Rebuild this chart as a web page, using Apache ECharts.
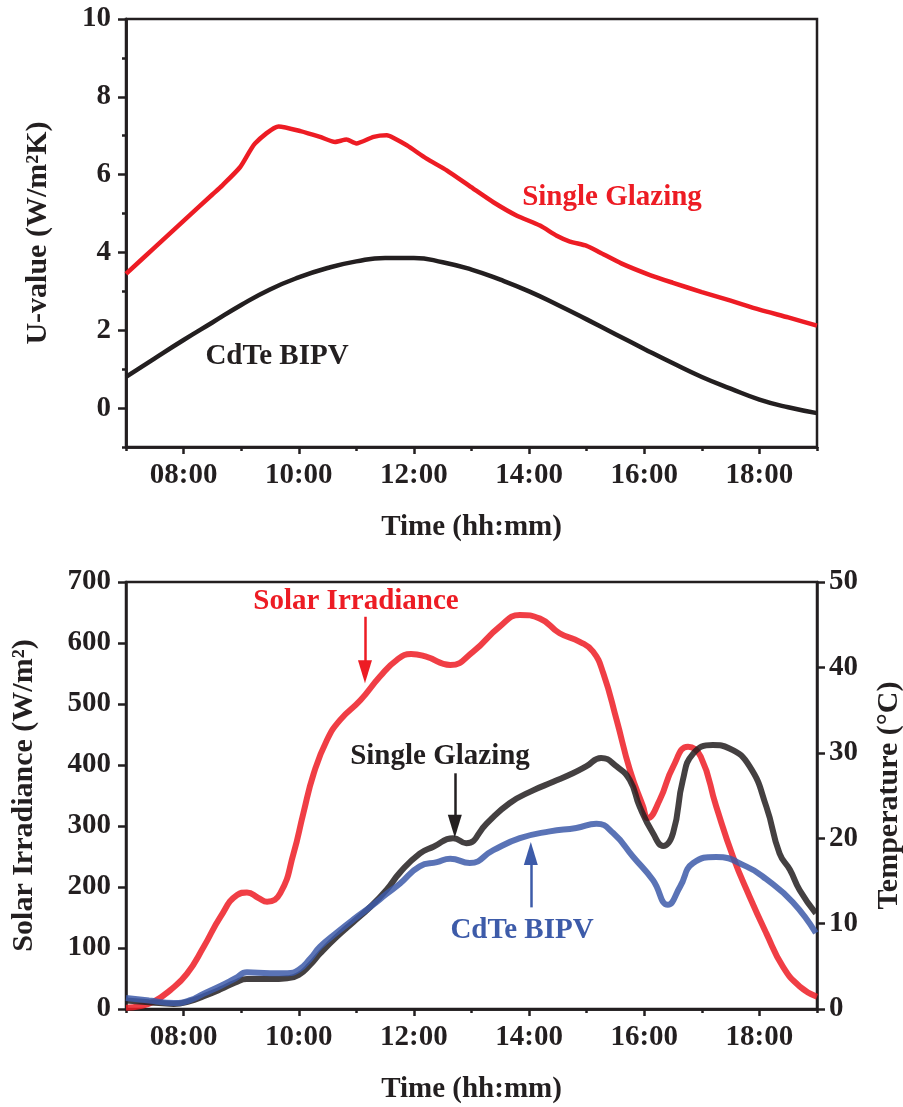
<!DOCTYPE html>
<html>
<head>
<meta charset="utf-8">
<script src="https://cdn.jsdelivr.net/npm/echarts@6/dist/echarts.min.js"></script>
<style>
html, body { margin: 0; padding: 0; background: #fff; }
#chart { width: 903px; height: 1107px; }
</style>
</head>
<body>
<div id="chart"></div>
<script>
var hourLabels = ['07:00', '08:00', '09:00', '10:00', '11:00', '12:00', '13:00',
  '14:00', '15:00', '16:00', '17:00', '18:00', '19:00']
var uTickLabels = ['-1', '0', '1', '2', '3', '4', '5', '6', '7', '8', '9', '10']

// top panel: U-value (W/m2K)
var singleUHours = [7.0, 7.5, 8.0, 8.5, 8.67, 8.98, 9.24, 9.65, 10.03, 10.37, 10.63, 10.83, 11.0,
  11.3, 11.53, 11.64, 11.88, 12.22, 12.57, 13.03, 13.38, 13.78, 14.19, 14.48, 14.71, 15.0, 15.23,
  15.6, 16.1, 16.5, 17.0, 17.5, 18.0, 18.5, 19.0]
var singleU = [3.45, 4.13, 4.81, 5.49, 5.72, 6.19, 6.80, 7.24, 7.12, 6.97, 6.84, 6.90, 6.80,
  6.97, 7.01, 6.95, 6.75, 6.41, 6.11, 5.64, 5.29, 4.95, 4.69, 4.43, 4.28, 4.17, 4.0,
  3.72, 3.42, 3.22, 2.98, 2.76, 2.53, 2.33, 2.12]

var cdteUHours = [7, 7.5, 8, 8.5, 9, 9.5, 10, 10.5, 11, 11.5, 12, 12.5, 13, 13.5, 14, 14.5,
  15, 15.5, 16, 16.5, 17, 17.5, 18, 18.5, 19]
var cdteU = [0.80, 1.28, 1.75, 2.20, 2.65, 3.05, 3.36, 3.60, 3.77, 3.86, 3.86, 3.75, 3.56, 3.30,
  3.00, 2.65, 2.28, 1.90, 1.52, 1.15, 0.80, 0.50, 0.22, 0.02, -0.13]

// bottom panel: solar irradiance (W/m2) and temperatures (oC)
var solarHours = [7.0, 7.25, 7.48, 7.77, 8.06, 8.35, 8.64, 8.93, 9.10, 9.30, 9.45, 9.68, 9.91,
  10.08, 10.26, 10.49, 10.72, 11.07, 11.41, 11.70, 11.95, 12.2, 12.63, 13.03, 13.49, 13.84,
  14.19, 14.53, 14.88, 15.11, 15.29, 15.52, 15.75, 15.98, 16.06, 16.27, 16.50, 16.76, 16.98,
  17.25, 17.54, 17.83, 18.12, 18.41, 18.70, 19.0]
var solarIrr = [2, 5, 12, 31, 58, 102, 151, 187, 191, 182, 176, 190, 255,
  321, 386, 441, 474, 506, 545, 572, 582, 578, 564, 586, 627, 646,
  640, 616, 602, 586, 550, 474, 392, 332, 313, 343, 397, 430, 414,
  332, 250, 184, 124, 69, 37, 20]

var singleTempHours = [7.0, 7.4, 7.83, 8.1, 8.35, 8.64, 8.9, 9.1, 9.5, 9.8, 10.0, 10.2, 10.37,
  10.65, 10.95, 11.25, 11.53, 11.76, 12.1, 12.34, 12.68, 12.91, 13.26, 13.66, 14.07, 14.42,
  14.76, 14.99, 15.25, 15.52, 15.75, 15.92, 16.15, 16.33, 16.50, 16.67, 16.85, 17.19, 17.48,
  17.83, 18.12, 18.35, 18.53, 18.70, 18.98]
var singleTemp = [1.0, 0.8, 0.6, 0.9, 1.5, 2.3, 3.1, 3.5, 3.5, 3.6, 4.0, 5.2, 6.5,
  8.4, 10.2, 12.0, 14.0, 16.0, 18.2, 19.0, 20.0, 19.4, 21.7, 24.1, 25.6, 26.6,
  27.6, 28.4, 29.4, 28.4, 26.8, 23.7, 20.6, 19.1, 20.6, 26.8, 29.9, 30.9, 30.5,
  28.4, 23.7, 18.2, 16.3, 13.9, 11.2]

var cdteTempHours = [7.0, 7.4, 7.83, 8.1, 8.35, 8.64, 8.9, 9.1, 9.5, 9.8, 10.0, 10.2, 10.37,
  10.65, 10.95, 11.25, 11.53, 11.76, 12.1, 12.4, 12.63, 12.97, 13.38, 13.84, 14.36, 14.82,
  15.17, 15.46, 15.81, 16.15, 16.41, 16.62, 16.85, 17.25, 17.77, 18.12, 18.58, 18.98]
var cdteTemp = [1.3, 1.0, 0.7, 1.0, 1.8, 2.7, 3.6, 4.3, 4.2, 4.2, 4.6, 5.9, 7.3,
  8.9, 10.5, 12.0, 13.5, 14.7, 16.7, 17.2, 17.6, 17.1, 18.6, 20.0, 20.8, 21.2,
  21.7, 20.6, 17.8, 15.1, 12.2, 14.3, 17.1, 17.8, 16.7, 15.2, 12.5, 8.9]

function pairs(xs, ys) {
  var out = []
  for (var i = 0; i < xs.length; i++) out.push([xs[i], ys[i]])
  return out
}

var INK = '#231f20'
var RED = '#ed1c24'
var BLUE = '#3d5ba9'
var FONT = 'Liberation Serif'

var labelStyle = { color: INK, fontFamily: FONT, fontWeight: 'bold', fontSize: 29 }
var nameStyle = { color: INK, fontFamily: FONT, fontWeight: 'bold', fontSize: 29 }
var yNameStyle = { color: INK, fontFamily: FONT, fontWeight: 'bold', fontSize: 30 }
var axisLine = { lineStyle: { color: INK, width: 2.5 } }
var noteFont = 'bold 29px "Liberation Serif"'

function evenIdx(i) { return i % 2 === 1 }
function oddIdx(i) { return i % 2 === 0 }

// hidden value axes carry the data; category overlays draw ticks/labels
function hiddenX(grid) {
  return { type: 'value', gridIndex: grid, min: 7, max: 19, show: false }
}
function hourAxisMajor(grid) {
  return {
    type: 'category', gridIndex: grid, position: 'bottom', data: hourLabels, boundaryGap: false,
    axisLine: axisLine,
    axisTick: { interval: evenIdx, length: 7, lineStyle: { color: INK, width: 2.5 } },
    axisLabel: Object.assign({ interval: evenIdx, margin: 14 }, labelStyle),
    splitLine: { show: false },
    name: 'Time (hh:mm)', nameLocation: 'middle', nameGap: 66, nameTextStyle: nameStyle
  }
}
function hourAxisMinor(grid) {
  return {
    type: 'category', gridIndex: grid, position: 'bottom', data: hourLabels, boundaryGap: false,
    axisLine: axisLine,
    axisTick: { interval: oddIdx, length: 4, lineStyle: { color: INK, width: 2.5 } },
    axisLabel: { show: false },
    splitLine: { show: false }
  }
}
function arrow(color, from, to) {
  return {
    silent: true, symbol: ['none', 'triangle'], symbolSize: 16,
    label: { show: false }, emphasis: { disabled: true },
    lineStyle: { color: color, width: 2.5, type: 'solid' },
    data: [[{ coord: from, symbol: 'none' }, { coord: to, symbol: 'triangle', symbolSize: [14, 23] }]]
  }
}

var option = {
  backgroundColor: '#fff',
  animation: false,
  grid: [
    { left: 126, top: 19, width: 691, height: 428, show: true, borderColor: INK, borderWidth: 2.5, outerBoundsMode: 'none' },
    { left: 126, top: 582, width: 691, height: 427, show: true, borderColor: INK, borderWidth: 2.5, outerBoundsMode: 'none' }
  ],
  xAxis: [
    hiddenX(0), hourAxisMajor(0), hourAxisMinor(0),
    hiddenX(1), hourAxisMajor(1), hourAxisMinor(1)
  ],
  yAxis: [
    { type: 'value', gridIndex: 0, min: -1, max: 10, show: false },
    {
      type: 'category', gridIndex: 0, position: 'left', data: uTickLabels, boundaryGap: false,
      axisLine: axisLine,
      axisTick: { interval: evenIdx, length: 8, lineStyle: { color: INK, width: 2.5 } },
      axisLabel: Object.assign({ interval: evenIdx, margin: 15 }, labelStyle),
      splitLine: { show: false },
      name: 'U-value (W/m²K)', nameLocation: 'middle', nameGap: 73, nameTextStyle: yNameStyle
    },
    {
      type: 'category', gridIndex: 0, position: 'left', data: uTickLabels, boundaryGap: false,
      axisLine: axisLine,
      axisTick: { interval: oddIdx, length: 4, lineStyle: { color: INK, width: 2.5 } },
      axisLabel: { show: false },
      splitLine: { show: false }
    },
    {
      type: 'value', gridIndex: 1, position: 'left', min: 0, max: 700, interval: 100,
      axisLine: { show: true, lineStyle: { color: INK, width: 2.5 } },
      axisTick: { show: true, length: 8, lineStyle: { color: INK, width: 2.5 } },
      axisLabel: Object.assign({ margin: 15 }, labelStyle),
      splitLine: { show: false },
      name: 'Solar Irradiance (W/m²)', nameLocation: 'middle', nameGap: 87, nameTextStyle: yNameStyle
    },
    {
      type: 'value', gridIndex: 1, position: 'right', min: 0, max: 50, interval: 10,
      axisLine: { show: true, lineStyle: { color: INK, width: 2.5 } },
      axisTick: { show: true, length: 8, lineStyle: { color: INK, width: 2.5 } },
      axisLabel: Object.assign({ margin: 12 }, labelStyle),
      splitLine: { show: false },
      name: 'Temperature (°C)', nameLocation: 'middle', nameGap: 57, nameRotate: 90,
      nameTextStyle: yNameStyle
    }
  ],
  graphic: [
    { type: 'text', x: 612, y: 198, style: { text: 'Single Glazing', fill: RED, font: noteFont, align: 'center', verticalAlign: 'middle' } },
    { type: 'text', x: 277, y: 357, style: { text: 'CdTe BIPV', fill: INK, font: noteFont, align: 'center', verticalAlign: 'middle' } },
    { type: 'text', x: 356, y: 602, style: { text: 'Solar Irradiance', fill: RED, font: noteFont, align: 'center', verticalAlign: 'middle' } },
    { type: 'text', x: 440, y: 757, style: { text: 'Single Glazing', fill: INK, font: noteFont, align: 'center', verticalAlign: 'middle' } },
    { type: 'text', x: 522, y: 931, style: { text: 'CdTe BIPV', fill: BLUE, font: noteFont, align: 'center', verticalAlign: 'middle' } }
  ],
  series: [
    {
      name: 'Single Glazing U', type: 'line', xAxisIndex: 0, yAxisIndex: 0,
      data: pairs(singleUHours, singleU), showSymbol: false, smooth: 0.2,
      lineStyle: { color: RED, width: 4.5 }, z: 3
    },
    {
      name: 'CdTe BIPV U', type: 'line', xAxisIndex: 0, yAxisIndex: 0,
      data: pairs(cdteUHours, cdteU), showSymbol: false, smooth: true,
      lineStyle: { color: INK, width: 4.5 }, z: 3
    },
    {
      name: 'Solar Irradiance', type: 'line', xAxisIndex: 3, yAxisIndex: 3,
      data: pairs(solarHours, solarIrr), showSymbol: false, smooth: true,
      lineStyle: { color: RED, width: 6, opacity: 0.85 }, z: 3,
      markLine: arrow(RED, [11.15, 643], [11.15, 553])
    },
    {
      name: 'Single Glazing T', type: 'line', xAxisIndex: 3, yAxisIndex: 4,
      data: pairs(singleTempHours, singleTemp), showSymbol: false, smooth: true,
      lineStyle: { color: INK, width: 6, opacity: 0.85 }, z: 4,
      markLine: arrow(INK, [12.71, 27.6], [12.71, 21.4])
    },
    {
      name: 'CdTe BIPV T', type: 'line', xAxisIndex: 3, yAxisIndex: 4,
      data: pairs(cdteTempHours, cdteTemp), showSymbol: false, smooth: true,
      lineStyle: { color: BLUE, width: 6, opacity: 0.85 }, z: 5,
      markLine: arrow(BLUE, [14.03, 11.9], [14.03, 18.2])
    }
  ]
}

var chart = echarts.init(document.getElementById('chart'))
chart.setOption(option)
</script>
</body>
</html>
